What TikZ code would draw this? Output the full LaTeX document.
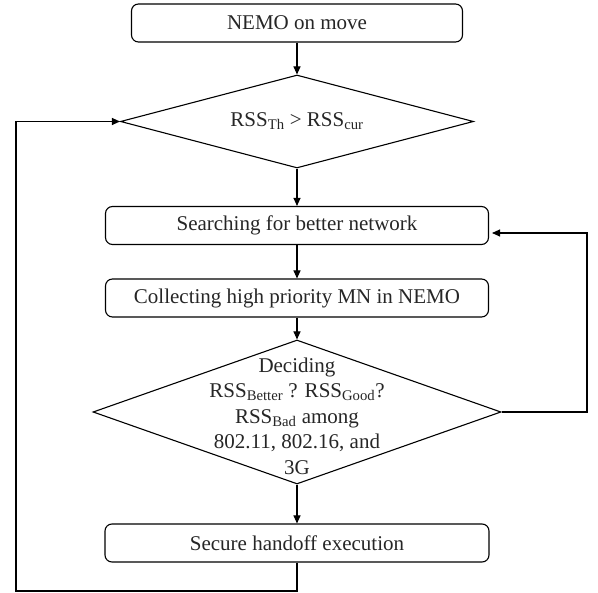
\documentclass[tikz,border=0pt]{standalone}
\usepackage{fontspec}
\setmainfont{Liberation Serif}
\usetikzlibrary{shapes.geometric,arrows.meta}
\newcommand\mysub[1]{\textsubscript{#1}}
\begin{document}
\begin{tikzpicture}[x=1pt,y=-1pt,
  every node/.style={font=\fontsize{21}{25.5}\selectfont, text=black!85},
  proc/.style={draw, rounded corners=7pt, minimum height=38pt, inner sep=0pt, line width=1.1pt},
  dec/.style={draw, diamond, inner sep=0pt, line width=1.1pt},
  arr/.style={-{Triangle[length=8pt,width=7pt]}, line width=1.1pt},
  ln/.style={line width=1.1pt}]
\useasboundingbox (0,0) rectangle (598,593);
\node[proc, minimum width=331pt] (b1) at (297,23) {NEMO on move};
\node[dec, minimum width=353pt, minimum height=93pt] (d1) at (297,121.5) {};
\node (t1) at (d1.center) {RSS\mysub{Th} > RSS\mysub{cur}};
\node[proc, minimum width=383pt] (s) at (297,225.5) {Searching for better network};
\node[proc, minimum width=383pt] (c) at (297,298) {Collecting high priority MN in NEMO};
\node[dec, minimum width=408pt, minimum height=144pt] (d2) at (297,412) {};
\node[align=center] (t2) at (297,416) {Deciding\\RSS\mysub{Better} ? RSS\mysub{Good}?\\RSS\mysub{Bad} among\\802.11, 802.16, and\\3G};
\node[proc, minimum width=384pt] (h) at (297,543) {Secure handoff execution};
\coordinate (r1) at (587,412);
\coordinate (r2) at (587,233);
\coordinate (l2) at (16,591);
\draw[arr] (b1) -- (d1);
\draw[arr] (d1.south) -- (s.north);
\draw[arr] (s) -- (c);
\draw[arr] (c.south) -- (d2.north);
\draw[arr] (d2.south) -- (h.north);
\draw[arr, shorten >=3pt] (d2.east) -- (r1) -- (r2) -- (s.east |- r2);
\draw[arr] (h.south) -- (h.south |- l2) -- (l2) |- (d1.west);
\end{tikzpicture}
\end{document}
